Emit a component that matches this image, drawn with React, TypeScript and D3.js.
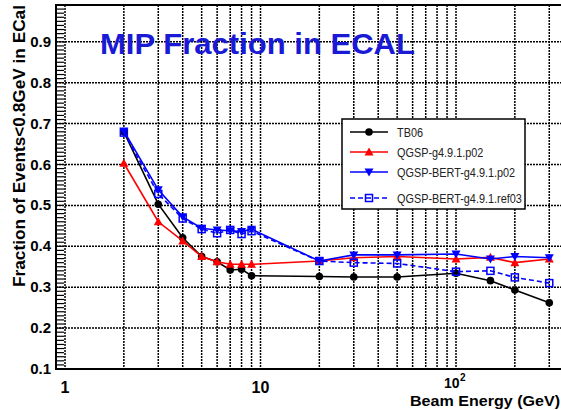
import React from 'react';
import * as d3 from 'd3';

// beam energies (GeV)
const energies = [2, 3, 4, 5, 6, 7, 8, 9, 20, 30, 50, 100, 150, 200, 300];
const tb06 = [0.68, 0.503, 0.421, 0.375, 0.362, 0.342, 0.344, 0.328, 0.326, 0.325, 0.325, 0.334, 0.316, 0.293, 0.262];
const qgsp = [0.603, 0.46, 0.413, 0.375, 0.362, 0.356, 0.356, 0.356, 0.364, 0.372, 0.375, 0.369, 0.373, 0.36, 0.369];
const bertP02 = [0.682, 0.538, 0.472, 0.444, 0.44, 0.438, 0.436, 0.442, 0.364, 0.379, 0.379, 0.381, 0.369, 0.375, 0.372];
const bertRef03 = [0.678, 0.528, 0.468, 0.442, 0.432, 0.44, 0.43, 0.437, 0.364, 0.36, 0.358, 0.338, 0.34, 0.324, 0.31];

const yTicks = [0.1, 0.2, 0.3, 0.4, 0.5, 0.6, 0.7, 0.8, 0.9];
const xGrid = [1, 2, 3, 4, 5, 6, 7, 8, 9, 10, 20, 30, 40, 50, 60, 70, 80, 90, 100, 200, 300];

const W = 561, H = 410;
const x0 = 56, y0 = 5, yB = 369;
const xMax = 400;
const decade = 195.5;

const x = d3.scaleLog().domain([1, xMax]).range([65, 65 + Math.log10(xMax) * decade]);
const y = d3.scaleLinear().domain([0.1, 0.99]).range([yB, y0]);

const series = [
  { name: 'TB06', vals: tb06, color: '#000', dash: '', marker: 'circle' },
  { name: 'QGSP-g4.9.1.p02', vals: qgsp, color: '#ff0000', dash: '', marker: 'up' },
  { name: 'QGSP-BERT-g4.9.1.p02', vals: bertP02, color: '#0000ff', dash: '', marker: 'down' },
  { name: 'QGSP-BERT-g4.9.1.ref03', vals: bertRef03, color: '#0000ff', dash: '5,3', marker: 'square' },
];

function Marker({ kind, cx, cy, color }: { kind: string; cx: number; cy: number; color: string }) {
  if (kind === 'circle') return <circle cx={cx} cy={cy} r={3.8} fill={color} />;
  if (kind === 'up') return <path d={`M${cx},${cy - 4.5}L${cx + 4.5},${cy + 3.5}L${cx - 4.5},${cy + 3.5}Z`} fill={color} />;
  if (kind === 'down') return <path d={`M${cx},${cy + 4.5}L${cx + 4.5},${cy - 3.5}L${cx - 4.5},${cy - 3.5}Z`} fill={color} />;
  return <rect x={cx - 3.5} y={cy - 3.5} width={7} height={7} fill="none" stroke={color} strokeWidth={1.5} />;
}

export default function App() {
  const line = d3.line<number>().x((_, i) => x(energies[i])).y(v => y(v));
  const minor = d3.range(10, 100).map(v => v / 100);
  const xR = x(xMax);
  return (
    <div style={{ position: 'fixed', left: 0, top: 0 }}>
      <svg width={W} height={H} style={{ display: 'block', background: '#fff', fontFamily: 'Liberation Sans, Arial, sans-serif' }}>
        {/* grid */}
        <g stroke="#000" strokeWidth={1.5} strokeDasharray="2,1">
          {xGrid.map(v => <line key={'gx' + v} x1={x(v)} x2={x(v)} y1={y0} y2={yB} />)}
          {yTicks.slice(1).map(v => <line key={'gy' + v} x1={x0} x2={xR} y1={y(v)} y2={y(v)} />)}
        </g>
        {/* y minor ticks */}
        <g stroke="#000" strokeWidth={1.2}>
          {minor.map(v => <line key={'t' + v} x1={x0} x2={x0 + 8} y1={y(v)} y2={y(v)} />)}
        </g>
        {/* frame */}
        <rect x={x0} y={y0} width={xR - x0} height={yB - y0} fill="none" stroke="#000" strokeWidth={2} />
        {/* title */}
        <text x={100} y={54} fill="#1a1ad6" fontSize={29} fontWeight="bold" textLength={315} lengthAdjust="spacingAndGlyphs">MIP Fraction in ECAL</text>
        {/* series */}
        {series.map(s => (
          <g key={s.name}>
            <path d={line(s.vals) || ''} fill="none" stroke={s.color} strokeWidth={1.6} strokeDasharray={s.dash} />
            {s.vals.map((v, i) => <Marker key={i} kind={s.marker} cx={x(energies[i])} cy={y(v)} color={s.color} />)}
          </g>
        ))}
        {/* legend */}
        <rect x={342} y={119} width={183} height={90} fill="#fff" stroke="#000" strokeWidth={1.5} />
        {series.map((s, i) => {
          const ly = [132, 152, 172, 198][i];
          return (
            <g key={'lg' + s.name}>
              <line x1={350} x2={388} y1={ly} y2={ly} stroke={s.color} strokeWidth={1.6} strokeDasharray={s.dash} />
              <Marker kind={s.marker} cx={369} cy={ly} color={s.color} />
              <text transform={`translate(397,${ly + 4.5}) scale(0.87,1)`} fontSize={12.5} fill="#222">{s.name}</text>
            </g>
          );
        })}
        {/* y tick labels */}
        {yTicks.map(v => (
          <text key={'yl' + v} x={51} y={y(v) + 5} fontSize={15} fontWeight="bold" textAnchor="end">{v.toFixed(1)}</text>
        ))}
        {/* x tick labels */}
        <text x={x(1)} y={393} fontSize={16} fontWeight="bold" textAnchor="middle">1</text>
        <text x={x(10)} y={393} fontSize={16} fontWeight="bold" textAnchor="middle">10</text>
        <text x={x(100) - 12} y={388} fontSize={14} fontWeight="bold">10</text>
        <text x={x(100) + 4} y={381} fontSize={10} fontWeight="bold">2</text>
        {/* axis titles */}
        <text x={560} y={406} fontSize={15.5} fontWeight="bold" textAnchor="end" textLength={150} lengthAdjust="spacingAndGlyphs">Beam Energy (GeV)</text>
        <text transform="translate(25,146) rotate(-90)" fontSize={17} fontWeight="bold" textAnchor="middle" textLength={282} lengthAdjust="spacingAndGlyphs">Fraction of Events&lt;0.8GeV in ECal</text>
      </svg>
    </div>
  );
}
